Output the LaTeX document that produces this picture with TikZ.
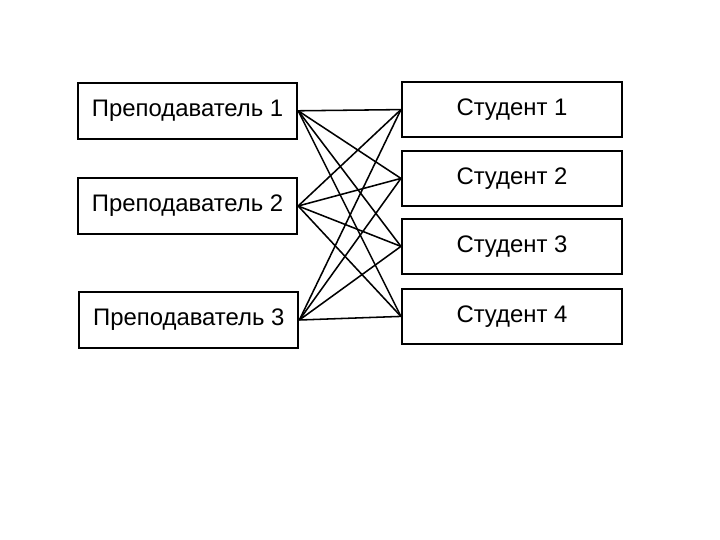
\documentclass[tikz,border=0pt]{standalone}
\usepackage{fontspec}
\setmainfont{Liberation Sans}
\usepackage{tikz}

\begin{document}
\begin{tikzpicture}
\tikzstyle{every node}=[font=\fontsize{17}{20}\selectfont]
\tikzstyle{teacher}=[draw,line width=1.5pt,minimum width=5.475cm,minimum height=1.4cm,inner sep=0pt]
\tikzstyle{student}=[draw,line width=1.5pt,minimum width=5.5cm,minimum height=1.375cm,inner sep=0pt]
\useasboundingbox (0,0) rectangle (18,13.5);

\node[teacher](t1) at (4.69,10.73){Преподаватель 1};
\node[teacher](t2) at (4.69,8.35){Преподаватель 2};
\node[teacher](t3) at (4.72,5.5){Преподаватель 3};

\node[student](s1) at (12.8,10.76){Студент 1};
\node[student](s2) at (12.8,9.04){Студент 2};
\node[student](s3) at (12.8,7.34){Студент 3};
\node[student](s4) at (12.8,5.59){Студент 4};

\foreach \i in {1,2,3}
  \foreach \j in {1,2,3,4}
    \draw[line width=1.1pt](t\i.east)--(s\j.west);

\end{tikzpicture}
\end{document}
